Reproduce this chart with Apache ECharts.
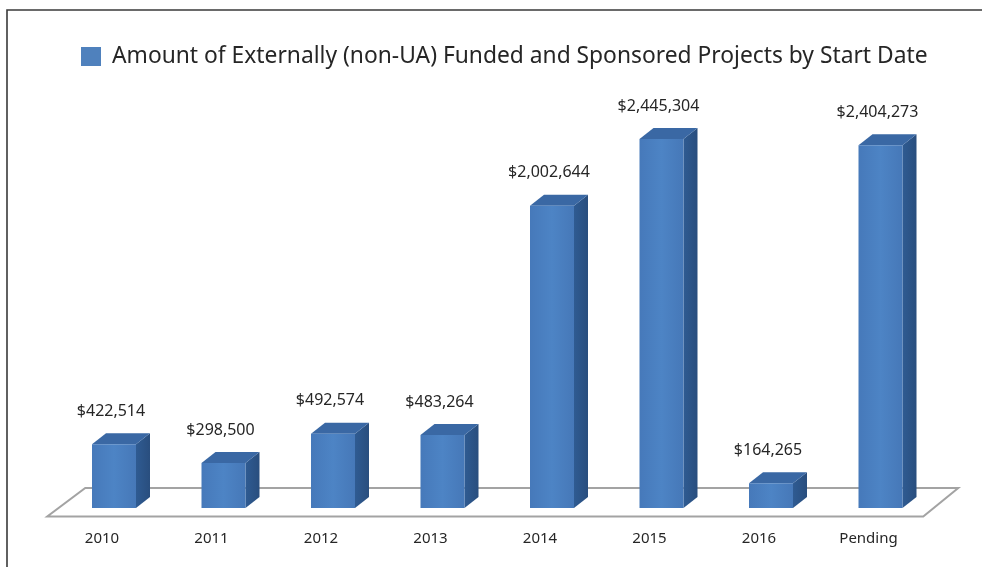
<!DOCTYPE html>
<html>
<head>
<meta charset="utf-8">
<script src="https://cdn.jsdelivr.net/npm/echarts@6/dist/echarts.min.js"></script>
<style>
html,body{margin:0;padding:0;background:#fff;}
#c{width:982px;height:567px;}
</style>
</head>
<body>
<div id="c"></div>
<script>
const categories = ['2010','2011','2012','2013','2014','2015','2016','Pending'];
const amounts = [422514, 298500, 492574, 483264, 2002644, 2445304, 164265, 2404273];
const seriesName = 'Amount of Externally (non-UA) Funded and Sponsored Projects by Start Date';

const FONT = '"Noto Sans", "Open Sans", sans-serif';
const BAR_W = 44, DX = 14, DY = 11;

function fmt(v){ return '$' + v.toLocaleString('en-US'); }

function renderBar(params, api){
  const top = api.coord([api.value(0), api.value(1)]);
  const base = api.coord([api.value(0), 0]);
  const xl = top[0] - BAR_W/2, xr = top[0] + BAR_W/2, yt = top[1], yb = base[1];
  return {
    type: 'group',
    children: [
      { type:'polygon', shape:{points:[[xr,yt],[xr+DX,yt-DY],[xr+DX,yb-DY],[xr,yb]]},
        style:{fill:new echarts.graphic.LinearGradient(0,0,1,0,[{offset:0,color:'#2F5B92'},{offset:1,color:'#294E7E'}])} },
      { type:'polygon', shape:{points:[[xl,yt],[xl+DX,yt-DY],[xr+DX,yt-DY],[xr,yt]]},
        style:{fill:'#3A68A4'} },
      { type:'rect', shape:{x:xl, y:yt, width:BAR_W, height:yb-yt},
        style:{fill:new echarts.graphic.LinearGradient(0,0,1,0,[{offset:0,color:'#4679BA'},{offset:0.5,color:'#4D84C5'},{offset:1,color:'#4678B8'}])} },
      { type:'text', x: top[0]-3, y: yt-33,
        style:{text: fmt(api.value(1)), font:'16px ' + FONT, fill:'#262626', align:'center', verticalAlign:'middle'} }
    ]
  };
}

function renderFloor(params, api){
  const cs = params.coordSys;
  const y0 = api.coord([0, 0])[1];
  const yf = y0 + 8.5, yb = y0 - 20;
  return {
    type:'polygon',
    shape:{points:[[cs.x-12,yf],[cs.x+cs.width-12,yf],[cs.x+cs.width+23,yb],[cs.x+26,yb]]},
    style:{fill:'#fff', stroke:'#A3A3A3', lineWidth:2}
  };
}

const chart = echarts.init(document.getElementById('c'), null, {renderer:'canvas'});
chart.setOption({
  animation:false,
  backgroundColor:'#fff',
  textStyle:{fontFamily:FONT},
  graphic:[{type:'rect', left:4.5, top:7.5, shape:{x:0,y:0,width:1000,height:600},
    style:{fill:'none', stroke:'#3a3a3a', lineWidth:1.6}, z:100}],
  legend:{
    data:[{name:seriesName, icon:'rect'}],
    left:81, top:45, padding:0, itemWidth:20, itemHeight:19, itemGap:10,
    textStyle:{fontSize:22.8, color:'#262626', fontFamily:FONT, padding:[1,0,0,6]}
  },
  grid:{left:59.25, right:46.75, top:55.3, bottom:59},
  xAxis:{
    type:'category', data:categories,
    axisLine:{show:false}, axisTick:{show:false},
    axisLabel:{margin:23, fontSize:15, color:'#262626', fontFamily:FONT, padding:[0,24,0,0]}
  },
  yAxis:{type:'value', min:0, max:3000000, show:false, splitLine:{show:false}},
  series:[
    {type:'custom', name:'floor', renderItem:renderFloor, data:[[0,0]], z:1, silent:true},
    {type:'custom', name:seriesName, renderItem:renderBar, itemStyle:{color:'#4F81BD'},
     data: amounts.map((v,i)=>[i,v]), z:2}
  ]
});
</script>
</body>
</html>
